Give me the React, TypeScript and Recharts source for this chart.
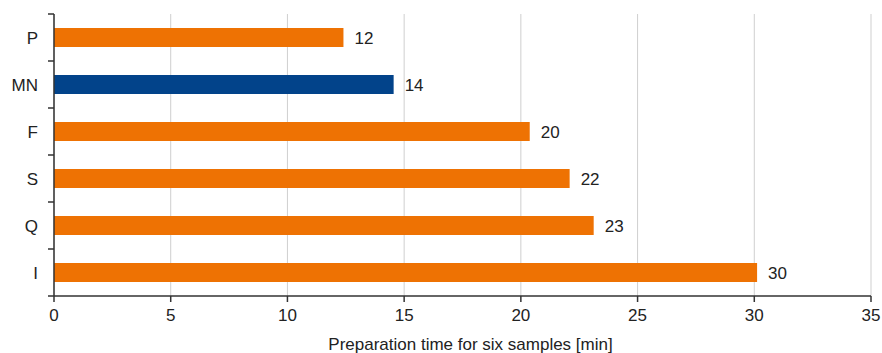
import React from "react";
import { BarChart, Bar, XAxis, YAxis, CartesianGrid, Cell, LabelList, Label } from "recharts";

// Preparation time per method (minutes)
const methods = ["P", "MN", "F", "S", "Q", "I"];
const prepMinutes = [12.4, 14.55, 20.38, 22.09, 23.12, 30.12];
const highlighted = ["MN"];
const xTicks = [0, 5, 10, 15, 20, 25, 30, 35];
const axisTitle = "Preparation time for six samples [min]";

const WIDTH = 882;
const HEIGHT = 353;
const MARGIN = { top: 14, right: 11, bottom: 0, left: 0 };
const Y_AXIS_WIDTH = 54;
const X_AXIS_HEIGHT = 57;
const PLOT_LEFT = MARGIN.left + Y_AXIS_WIDTH;
const PLOT_HEIGHT = HEIGHT - MARGIN.top - MARGIN.bottom - X_AXIS_HEIGHT;
const BAND = PLOT_HEIGHT / methods.length;

const ORANGE = "#EE7203";
const BLUE = "#02438A";
const TEXT = "#222";
const AXIS = "#333";
const FONT = "'Liberation Sans', Arial, Helvetica, sans-serif";

const data = methods.map((m, i) => ({ method: m, value: prepMinutes[i] }));

const YTick = (props: any) => {
  const { y, payload, index } = props;
  const isLast = index === methods.length - 1;
  return (
    <g>
      <line x1={PLOT_LEFT - 6} x2={PLOT_LEFT} y1={y - BAND / 2} y2={y - BAND / 2} stroke={AXIS} strokeWidth={1.5} />
      {isLast && (
        <line x1={PLOT_LEFT - 6} x2={PLOT_LEFT} y1={y + BAND / 2} y2={y + BAND / 2} stroke={AXIS} strokeWidth={1.5} />
      )}
      <text x={PLOT_LEFT - 16} y={y + 6} textAnchor="end" fill={TEXT} fontSize={17} fontFamily={FONT}>
        {payload.value}
      </text>
    </g>
  );
};

const XTick = (props: any) => {
  const { x, y, payload } = props;
  return (
    <text x={x} y={y + 17} textAnchor="middle" fill={TEXT} fontSize={17} fontFamily={FONT}>
      {payload.value}
    </text>
  );
};

export default function App() {
  return (
    <div style={{ position: "fixed", left: 0, top: 0, width: WIDTH, height: HEIGHT, background: "#fff" }}>
      <BarChart width={WIDTH} height={HEIGHT} data={data} layout="vertical" margin={MARGIN}>
        <CartesianGrid horizontal={false} stroke="#cfcfcf" strokeWidth={1} />
        <XAxis
          type="number"
          domain={[0, 35]}
          ticks={xTicks}
          height={X_AXIS_HEIGHT}
          stroke={AXIS}
          strokeWidth={1.5}
          tickSize={6}
          tick={<XTick />}
          interval={0}
        >
          <Label
            content={(p: any) => {
              const vb = p.viewBox || {};
              return (
                <text x={vb.x + vb.width / 2 + 8} y={350} textAnchor="middle" fill={TEXT} fontSize={17} fontFamily={FONT}>
                  {axisTitle}
                </text>
              );
            }}
          />
        </XAxis>
        <YAxis
          type="category"
          dataKey="method"
          width={Y_AXIS_WIDTH}
          stroke={AXIS}
          strokeWidth={1.5}
          tickLine={false}
          tick={<YTick />}
          interval={0}
        />
        <Bar dataKey="value" barSize={19} isAnimationActive={false}>
          {data.map((d) => (
            <Cell key={d.method} fill={highlighted.includes(d.method) ? BLUE : ORANGE} />
          ))}
          <LabelList
            dataKey="value"
            position="right"
            offset={11}
            formatter={(v: any) => Math.floor(Number(v))}
            fill={TEXT}
            fontSize={17}
            fontFamily={FONT}
          />
        </Bar>
      </BarChart>
    </div>
  );
}
